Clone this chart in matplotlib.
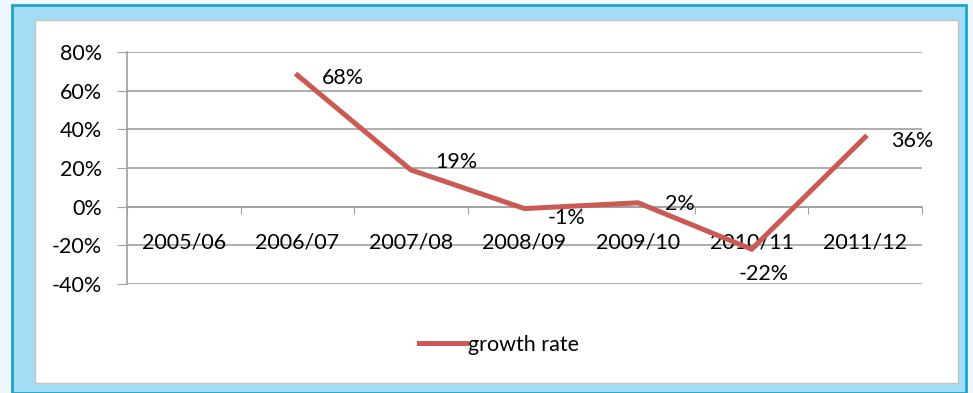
import numpy as np
import matplotlib.pyplot as plt
from matplotlib.patches import Rectangle

# data
seasons = ['2005/06', '2006/07', '2007/08', '2008/09', '2009/10', '2010/11', '2011/12']
growth = [np.nan, 0.68, 0.19, -0.01, 0.02, -0.22, 0.36]
growth_labels = ['', '68%', '19%', '-1%', '2%', '-22%', '36%']
y_ticks = [-0.4, -0.2, 0.0, 0.2, 0.4, 0.6, 0.8]
y_tick_labels = ['-40%', '-20%', '0%', '20%', '40%', '60%', '80%']

# label offsets in points (Excel-ish placement)
label_offsets = [(0, 0), (33, -2), (33, 6), (30, -7), (30, -1), (9, -18), (34, -3)]

plt.rcParams['font.family'] = ['Lato', 'DejaVu Sans']
FS = 15.5
W, H = 973, 393
fig = plt.figure(figsize=(W / 100, H / 100), dpi=100, facecolor='#eef7fd')

# frame and inner white panel
fig.patches.append(Rectangle((12 / W, 0), 954 / W, 388 / H, transform=fig.transFigure,
                             facecolor='#a3dcf5', edgecolor='#1ea3c6', lw=2, zorder=-2))
fig.patches.append(Rectangle((35 / W, 10 / H), 923 / W, 363 / H, transform=fig.transFigure,
                             facecolor='white', edgecolor='#c4c4c4', lw=1, zorder=-1))

ax = fig.add_axes([127 / W, (H - 284) / H, (922 - 127) / W, (284 - 52) / H])
ax.set_facecolor('none')
ax.set_zorder(2)

x = np.arange(len(seasons))
line_color = '#cc5a54'
ax.plot(x, growth, color=line_color, lw=3.6, solid_joinstyle='miter', label='growth rate', zorder=3)

for xi, yi, lab, off in zip(x, growth, growth_labels, label_offsets):
    if lab:
        ax.annotate(lab, (xi, yi), xytext=off, textcoords='offset points',
                    ha='center', va='center', fontsize=FS, color='black', zorder=4)

ax.set_xlim(-0.5, len(seasons) - 0.5)
ax.set_ylim(-0.4, 0.8)
ax.set_yticks(y_ticks)
ax.set_yticklabels(y_tick_labels, fontsize=FS)
ax.yaxis.grid(True, color='#a0a0a0', lw=1.2)
ax.set_axisbelow(True)

# x axis at zero with boundary ticks, labels drawn lower
ax.spines['bottom'].set_position(('data', 0))
ax.set_xticks(np.arange(-0.5, len(seasons), 1.0))
ax.set_xticklabels([])
ax.tick_params(axis='x', direction='out', length=5, color='#a0a0a0')
ax.tick_params(axis='y', direction='out', length=7, pad=11, color='#a0a0a0')
for s in ['top', 'right']:
    ax.spines[s].set_visible(False)
for s in ['left', 'bottom']:
    ax.spines[s].set_color('#a0a0a0')
    ax.spines[s].set_linewidth(1.2)

for xi, name in zip(x, seasons):
    ax.text(xi, -0.186, name, ha='center', va='center', fontsize=FS, zorder=2)

fig.legend(loc='center', bbox_to_anchor=(499 / W, 1 - 345 / H), frameon=False,
           fontsize=FS, handlelength=2.2, handletextpad=0.1)

fig.savefig('out.png', dpi=100, facecolor=fig.get_facecolor())
